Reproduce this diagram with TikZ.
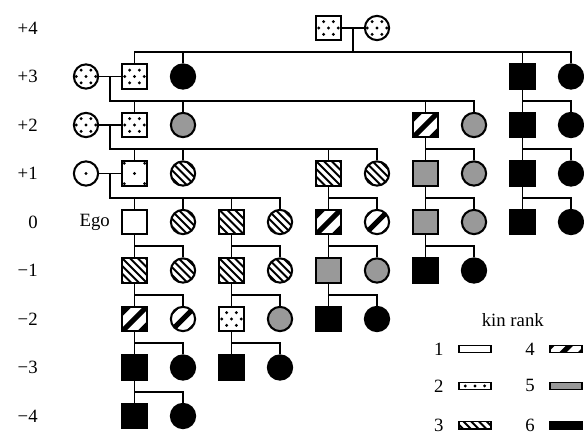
\documentclass[tikz,border=0pt]{standalone}
\usepackage{fontspec}
\setmainfont{Liberation Serif}
\usetikzlibrary{calc,positioning}
\definecolor{kingray}{RGB}{153,153,153}
\tikzset{
  link/.style={line width=1pt},
  male/.style={rectangle, draw, line width=1.2pt, minimum size=0.5cm, inner sep=0pt},
  female/.style={circle, draw, line width=1.2pt, minimum size=0.5cm, inner sep=0pt},
  legendbox/.style={rectangle, draw, line width=0.9pt, minimum width=0.66cm, minimum height=0.15cm, inner sep=0pt},
  genlabel/.style={anchor=east, inner sep=0pt},
  kin1/.style={fill=white},
  kin2/.style={fill=white, path picture={
    \foreach \i/\j in {-0.2/0,0/0,0.2/0,-0.1/0.13,0.1/0.13,-0.1/-0.13,0.1/-0.13}
      \fill[black] ($(path picture bounding box.center)+(\i,\j)$) circle (0.95pt);}},
  kin2s/.style={fill=white, path picture={
    \foreach \i/\j in {0/0,-0.21/0.21,0.21/0.21,-0.21/-0.21,0.21/-0.21}
      \fill[black] ($(path picture bounding box.center)+(\i,\j)$) circle (0.95pt);}},
  kin3/.style={fill=white, path picture={
    \foreach \i in {-4,...,4}
      \draw[black, line width=1.1pt] ($(path picture bounding box.center)+(\i*0.16-0.5,0.5)$) -- ++(1,-1);}},
  kin4/.style={fill=white, path picture={
    \foreach \i in {-2,...,2}
      \draw[black, line width=3pt] ($(path picture bounding box.center)+(\i*0.38-0.5,-0.5)$) -- ++(1,1);}},
  kin5/.style={fill=kingray},
  kin6/.style={fill=black},
}

\begin{document}
\begin{tikzpicture}[every node/.append style={font=\fontsize{11}{13}\selectfont}]
\useasboundingbox (-1.773,0.577) rectangle (10.268,-8.351);

% generations
\foreach \g [count=\y from 0] in {+4,+3,+2,+1,0,−1,−2,−3,−4}
  \node[genlabel] (gen\y) at (-0.99,-\y) {\g};

% persons: odd columns male, even columns female
\foreach \y/\x/\k in {
  0/5/kin2, 0/6/kin2,
  1/0/kin2, 1/1/kin2, 1/2/kin6, 1/9/kin6, 1/10/kin6,
  2/0/kin2, 2/1/kin2, 2/2/kin5, 2/7/kin4, 2/8/kin5, 2/9/kin6, 2/10/kin6,
  3/0/kin2s, 3/1/kin2s, 3/2/kin3, 3/5/kin3, 3/6/kin3, 3/7/kin5, 3/8/kin5, 3/9/kin6, 3/10/kin6,
  4/1/kin1, 4/2/kin3, 4/3/kin3, 4/4/kin3, 4/5/kin4, 4/6/kin4, 4/7/kin5, 4/8/kin5, 4/9/kin6, 4/10/kin6,
  5/1/kin3, 5/2/kin3, 5/3/kin3, 5/4/kin3, 5/5/kin5, 5/6/kin5, 5/7/kin6, 5/8/kin6,
  6/1/kin4, 6/2/kin4, 6/3/kin2, 6/4/kin5, 6/5/kin6, 6/6/kin6,
  7/1/kin6, 7/2/kin6, 7/3/kin6, 7/4/kin6,
  8/1/kin6, 8/2/kin6}
{
  \ifodd\x \def\sex{male}\else\def\sex{female}\fi
  \node[\sex,\k] (r\y c\x) at (\x,-\y) {};
}

\node[left=0.23cm of r4c1, inner sep=0pt] (ego) {Ego};

% couples
\draw[link] (r0c5) -- coordinate (m0) (r0c6);
\draw[link] (m0) -- ++(0,-0.5) coordinate (k0);
\draw[link] (r1c1) |- (k0) -| (r1c10);
\foreach \n in {r1c2,r1c9} \draw[link] (\n) -- (\n |- k0);

\draw[link] (r1c0) -- coordinate (m1) (r1c1);
\draw[link] (m1) -- ++(0,-0.5) coordinate (k1) -| (r2c8);
\foreach \n in {r2c1,r2c2,r2c7} \draw[link] (\n) -- (\n |- k1);

\draw[link] (r2c0) -- coordinate (m2) (r2c1);
\draw[link] (m2) -- ++(0,-0.5) coordinate (k2) -| (r3c6);
\foreach \n in {r3c1,r3c2,r3c5} \draw[link] (\n) -- (\n |- k2);

\draw[link] (r3c0) -- coordinate (m3) (r3c1);
\draw[link] (m3) -- ++(0,-0.5) coordinate (k3) -| (r4c4);
\foreach \n in {r4c1,r4c2,r4c3} \draw[link] (\n) -- (\n |- k3);

% father to son and daughter
\foreach \y/\x in {1/9,2/7,2/9,3/5,3/7,3/9,4/1,4/3,4/5,4/7,5/1,5/3,5/5,6/1,6/3,7/1}
{
  \pgfmathtruncatemacro{\yy}{\y+1}
  \pgfmathtruncatemacro{\xx}{\x+1}
  \draw[link] (r\y c\x) -- coordinate (h) (r\yy c\x);
  \draw[link] (h) -| (r\yy c\xx);
}

% legend
\node (kinrank) at (8.80,-6.02) {kin rank};
\node[legendbox,kin1] (key1) at (8.02,-6.62) {};
\node[legendbox,kin2] (key2) at (8.02,-7.38) {};
\node[legendbox,kin3] (key3) at (8.02,-8.19) {};
\node[legendbox,kin4] (key4) at (9.90,-6.62) {};
\node[legendbox,kin5] (key5) at (9.90,-7.38) {};
\node[legendbox,kin6] (key6) at (9.90,-8.19) {};
\foreach \n in {1,...,6}
  \node[left=0.18cm of key\n] (num\n) {\n};

\end{tikzpicture}
\end{document}
